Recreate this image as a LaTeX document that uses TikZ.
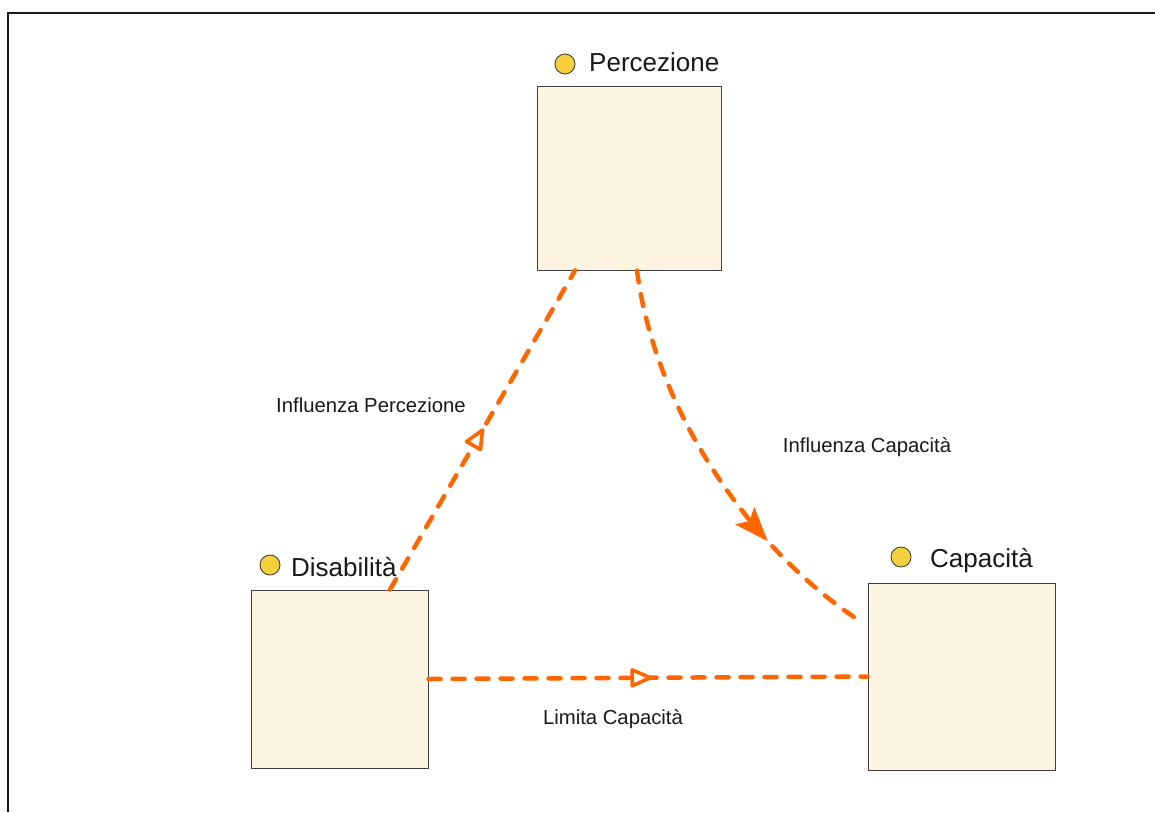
\documentclass[tikz,border=0pt]{standalone}
\usepackage{fontspec}
\setmainfont{Liberation Sans}
\usetikzlibrary{arrows.meta,decorations.markings,calc}
\definecolor{linkorange}{HTML}{FF6600}
\definecolor{boxfill}{HTML}{FDF5E1}
\definecolor{dotfill}{HTML}{F6CF3C}
\tikzset{
  conceptbox/.style={draw=black!75, line width=1pt, fill=boxfill, rectangle, inner sep=0pt},
  dot/.style={circle, draw=black!80, line width=0.8pt, fill=dotfill, minimum size=20pt, inner sep=0pt},
  title/.style={anchor=base west, font=\fontsize{26}{29}\selectfont, inner sep=0pt, text=black!90},
  edgelabel/.style={font=\fontsize{20.3}{23}\selectfont, inner sep=0pt, text=black!90},
  link/.style={draw=linkorange, line width=4.5pt, line cap=round, dash pattern=on 12pt off 12pt},
  openmid/.style={postaction={decorate}, decoration={markings, mark=at position #1 with {\draw[solid, draw=linkorange, fill=white, line width=3.6pt, line join=round] (-18pt,-8pt) -- (0pt,0pt) -- (-18pt,8pt) -- cycle;}}},
  filledmid/.style={postaction={decorate}, decoration={markings, mark=at position #1 with {\arrow[linkorange, solid, line width=1pt]{Stealth[length=34pt, width=26pt, inset=7pt]}}}}
}
\begin{document}
\begin{tikzpicture}[x=1pt, y=-1pt]
\useasboundingbox (0,0) rectangle (1155,812);
\fill[white] (0,0) rectangle (1155,812);
% frame
\coordinate (fbl) at (8,812);
\coordinate (ftl) at (8,13);
\coordinate (ftr) at (1155,13);
\draw[line width=2pt, black!90] (fbl) -- (ftl) -- (ftr);

% boxes
\node[conceptbox, minimum width=184pt, minimum height=184pt] (perc) at (629,178) {};
\node[conceptbox, minimum width=177pt, minimum height=178pt] (dis) at (339.5,679) {};
\node[conceptbox, minimum width=187pt, minimum height=187pt] (cap) at (961.5,676.5) {};

% titles
\node[dot] (percdot) at (565,64) {};
\node[title] (perct) at (589,71) {Percezione};
\node[dot] (disdot) at (270,565) {};
\node[title] (dist) at (291,576) {Disabilità};
\node[dot] (capdot) at (901,557) {};
\node[title] (capt) at (930,567) {Capacità};

% connectors
\draw[link, openmid=0.5] ([xshift=50.5pt]dis.north) -- ([xshift=-54pt]perc.south);
\draw[link, filledmid=0.71] ([xshift=8pt]perc.south) .. controls (655,410) and (750,550) .. ([xshift=-6pt, yshift=54.5pt]cap.west);
\draw[link, openmid=0.505] (dis.east) -- (cap.west);

% edge labels
\node[edgelabel] (l1) at (371,405) {Influenza Percezione};
\node[edgelabel] (l2) at (867,447) {Influenza Capacità};
\node[edgelabel] (l3) at (613,719) {Limita Capacità};
\end{tikzpicture}
\end{document}
